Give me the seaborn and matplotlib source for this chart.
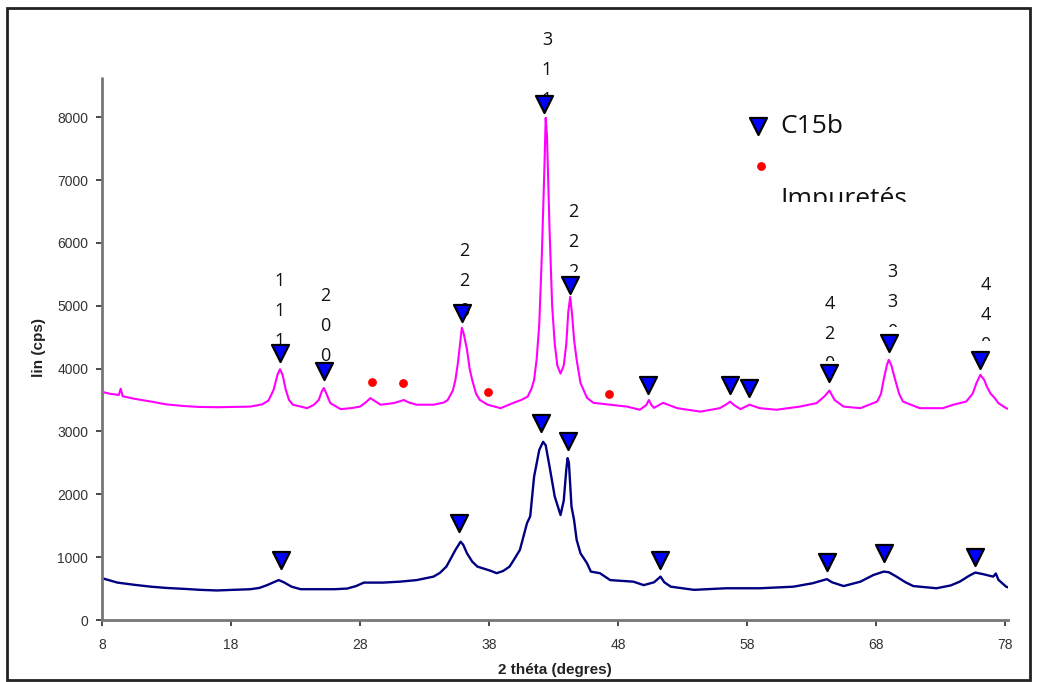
import numpy as np
import pandas as pd
import seaborn as sns
import matplotlib.pyplot as plt
from matplotlib.patches import Rectangle

# diffractogramme du haut (magenta)
theta_top = [8.0, 8.6, 9.3, 9.45, 9.6, 10.5, 11.8, 13.0, 14.3, 15.5, 16.9, 18.2, 19.5, 20.4, 20.9,
             21.3, 21.6, 21.8, 22.0, 22.25, 22.5, 22.8, 23.9, 24.4, 24.8, 25.05, 25.2, 25.4, 25.7,
             26.5, 27.3, 28.0, 28.5, 28.8, 29.1, 29.6, 30.6, 31.1, 31.4, 31.8, 32.4, 33.7, 34.5,
             34.8, 35.2, 35.4, 35.6, 35.8, 35.9, 36.05, 36.3, 36.5, 36.7, 37.0, 37.3, 37.9, 38.9,
             39.9, 40.5, 41.0, 41.3, 41.5, 41.7, 41.9, 42.1, 42.3, 42.4, 42.5, 42.7, 42.9, 43.1,
             43.3, 43.55, 43.8, 44.0, 44.15, 44.3, 44.45, 44.6, 44.8, 45.1, 45.6, 46.1, 47.4, 48.7,
             49.7, 50.2, 50.4, 50.6, 50.8, 51.5, 52.6, 54.4, 55.9, 56.4, 56.7, 57.0, 57.5, 58.2,
             59.0, 60.3, 62.1, 63.4, 64.0, 64.4, 64.8, 65.5, 66.8, 68.1, 68.4, 68.6, 68.85, 69.0,
             69.2, 69.5, 69.8, 70.1, 71.4, 73.2, 74.0, 75.0, 75.5, 75.8, 76.1, 76.4, 76.6, 76.9,
             77.2, 77.5, 78.1, 78.25]
counts_top = [3630, 3600, 3580, 3680, 3560, 3520, 3475, 3430, 3405, 3390, 3385, 3390, 3395, 3430, 3490,
              3660, 3900, 3990, 3900, 3660, 3500, 3425, 3370, 3420, 3500, 3640, 3690, 3600, 3450,
              3355, 3370, 3395, 3470, 3530, 3490, 3425, 3450, 3480, 3500, 3460, 3425, 3425, 3460,
              3500, 3650, 3820, 4100, 4460, 4650, 4550, 4300, 4000, 3820, 3600, 3500, 3425, 3370,
              3455, 3500, 3555, 3680, 3820, 4150, 4700, 5800, 7200, 7990, 7700, 6200, 5000, 4400,
              4050, 3920, 4050, 4400, 4900, 5140, 4850, 4460, 4140, 3770, 3535, 3455, 3425, 3395,
              3345, 3420, 3500, 3420, 3375, 3455, 3370, 3315, 3370, 3430, 3475, 3420, 3355, 3425,
              3370, 3345, 3395, 3450, 3555, 3650, 3500, 3395, 3370, 3475, 3600, 3820, 4050, 4140,
              4050, 3820, 3600, 3475, 3370, 3370, 3425, 3475, 3600, 3770, 3900, 3820, 3715, 3600,
              3535, 3450, 3370, 3360]

# diffractogramme du bas (bleu marine)
theta_bot = [8.0, 9.2, 10.5, 11.8, 13.0, 14.4, 15.6, 16.9, 18.2, 19.5, 20.2, 20.8, 21.3, 21.7, 22.1,
             22.7, 23.4, 26.0, 27.0, 27.7, 28.3, 29.8, 31.1, 32.4, 33.7, 34.2, 34.7, 35.1, 35.4,
             35.8, 36.0, 36.3, 36.7, 37.1, 38.1, 38.6, 39.1, 39.6, 40.0, 40.4, 40.95, 41.2, 41.5,
             41.9, 42.2, 42.4, 42.7, 43.1, 43.55, 43.8, 44.0, 44.1, 44.2, 44.4, 44.6, 44.8, 45.1,
             45.6, 45.9, 46.6, 47.4, 49.2, 50.0, 50.8, 51.3, 51.6, 52.1, 53.9, 56.4, 59.0, 61.6,
             63.1, 64.2, 64.6, 65.5, 66.8, 67.8, 68.6, 69.0, 69.6, 70.3, 70.9, 72.7, 73.8, 74.5,
             75.2, 75.7, 76.3, 76.9, 77.1, 77.3, 77.5, 78.1, 78.25]
counts_bot = [665, 595, 560, 530, 510, 495, 480, 470, 480, 490, 510, 555, 600, 635, 600,
              530, 490, 490, 500, 540, 595, 595, 610, 635, 690, 750, 850, 1000, 1115,
              1245, 1200, 1060, 930, 850, 785, 745, 780, 850, 980, 1115, 1540, 1650, 2280,
              2705, 2835, 2780, 2440, 1965, 1670, 1900, 2400, 2575, 2500, 1805, 1590, 1275, 1060,
              905, 770, 745, 635, 610, 555, 600, 690, 600, 530, 480, 505, 505, 530,
              585, 650, 600, 540, 610, 715, 770, 760, 690, 600, 540, 505, 550, 610,
              700, 755, 730, 700, 690, 740, 640, 530, 520]

# pics C15b (triangles) et impuretés (points rouges)
c15b_top_x = [21.8, 25.2, 35.9, 42.3, 44.3, 50.3, 56.7, 58.2, 64.4, 69.0, 76.1]
c15b_top_y = [4245, 3955, 4890, 8215, 5330, 3740, 3740, 3690, 3930, 4405, 4140]
c15b_bot_x = [21.9, 35.7, 42.0, 44.1, 51.3, 64.2, 68.6, 75.7]
c15b_bot_y = [955, 1540, 3130, 2840, 955, 930, 1070, 1000]
imp_x = [28.9, 31.3, 37.9, 47.3]
imp_y = [3780, 3770, 3630, 3600]

# indices hkl
hkl_labels = ['111', '200', '220', '311', '222', '420', '330', '440']
hkl_x = [21.8, 25.3, 36.1, 42.5, 44.5, 64.4, 69.3, 76.5]
hkl_y = [5386, 5147, 5863, 9220, 6484, 5028, 5529, 5330]
hkl_clip = [None, None, None, None, 5537, 4121, 4662, 4439]

sns.set_theme(style="white")
plt.rcParams['font.family'] = ['Liberation Sans', 'DejaVu Sans']

fig = plt.figure(figsize=(10.4, 6.82), dpi=100)
ax = fig.add_axes([0.0981, 0.0909, 0.8712, 0.7977])

top = pd.DataFrame({'theta': theta_top, 'cps': counts_top})
bot = pd.DataFrame({'theta': theta_bot, 'cps': counts_bot})
sns.lineplot(data=top, x='theta', y='cps', color='#ff00ff', linewidth=1.5, estimator=None, sort=False, ax=ax, zorder=2)
sns.lineplot(data=bot, x='theta', y='cps', color='#000080', linewidth=1.7, estimator=None, sort=False, ax=ax, zorder=2)

step = 477
for lab, x, y, cl in zip(hkl_labels, hkl_x, hkl_y, hkl_clip):
    for i, ch in enumerate(lab):
        t = ax.text(x, y - i * step, ch, ha='center', va='center', fontsize=13,
                    family=['Open Sans', 'DejaVu Sans'], color='#111111', zorder=3)
        if cl is not None and i == 2:
            r = Rectangle((x - 2, cl), 4, 20000, transform=ax.transData)
            t.set_clip_on(True)
            t.set_clip_path(r)

sns.scatterplot(x=imp_x, y=imp_y, color='#ff0000', s=40, linewidth=0, ax=ax, zorder=4)
sns.scatterplot(x=c15b_top_x, y=c15b_top_y, marker='v', color='#0000ff', edgecolor='black',
                linewidth=1.6, s=150, ax=ax, zorder=5, clip_on=False)
sns.scatterplot(x=c15b_bot_x, y=c15b_bot_y, marker='v', color='#0000ff', edgecolor='black',
                linewidth=1.6, s=150, ax=ax, zorder=5)

# légende dessinée à la main
ax.scatter([0.724], [0.908], marker='v', s=150, color='#0000ff', edgecolor='black', linewidth=1.6,
           transform=ax.transAxes, zorder=5, clip_on=False)
ax.scatter([0.727], [0.835], s=40, color='#ff0000', linewidth=0, transform=ax.transAxes, zorder=5)
ax.text(0.749, 0.908, 'C15b', transform=ax.transAxes, fontsize=19, va='center', ha='left',
        family=['Open Sans', 'DejaVu Sans'], color='#111111')
t = ax.text(0.749, 0.761, 'Impuretés', transform=ax.transAxes, fontsize=19, va='baseline', ha='left',
            family=['Open Sans', 'DejaVu Sans'], color='#111111')
t.set_clip_on(True)
t.set_clip_path(Rectangle((0, 0.769), 1, 1, transform=ax.transAxes))

ax.set_xlim(8, 78.25)
ax.set_ylim(0, 8655)
ax.set_xticks(np.arange(8, 79, 10))
ax.set_yticks(np.arange(0, 8001, 1000))
ax.tick_params(axis='both', which='major', labelsize=10, colors='#333333', length=4,
               direction='out', bottom=True, left=True, pad=6)
ax.tick_params(axis='x', pad=9)
ax.set_xlabel('2 théta (degres)', fontsize=11, fontweight='bold', color='#222222', labelpad=8)
ax.set_ylabel('lin (cps)', fontsize=11, fontweight='bold', color='#222222', labelpad=8)

for s in ['top', 'right']:
    ax.spines[s].set_visible(False)
for s in ['left', 'bottom']:
    ax.spines[s].set_color('#777777')
    ax.spines[s].set_linewidth(2)
    ax.spines[s].set_linestyle((0, (1, 1)))

# cadre autour de la figure
fig.patches.append(Rectangle((0.0067, 0.003), 0.984, 0.985, transform=fig.transFigure,
                             fill=False, edgecolor='#222222', linewidth=2))

plt.savefig('out.png', dpi=100)
